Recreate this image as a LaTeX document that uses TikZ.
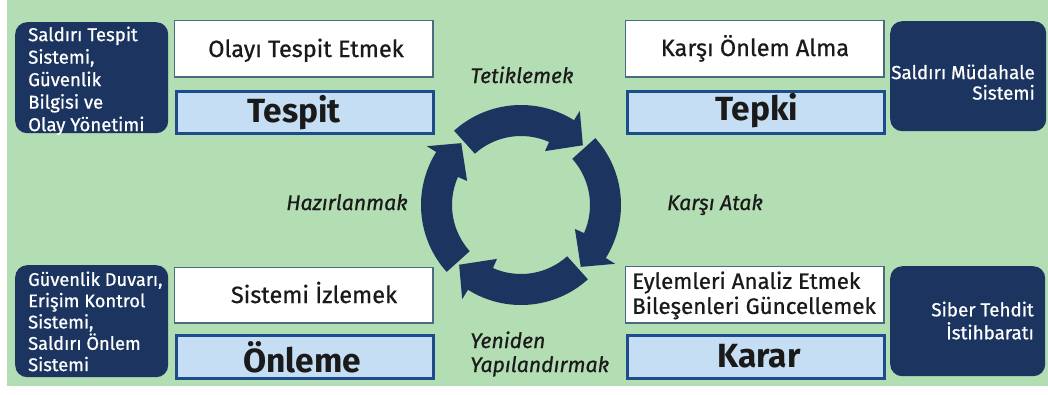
\documentclass[tikz,border=0pt]{standalone}
\usepackage{fontspec}
\setmainfont{Fira Sans}
\newfontfamily\medfont{Fira Sans}[FakeBold=0.7]
\definecolor{bggreen}{HTML}{B3DDB2}
\definecolor{navy}{HTML}{1B3560}
\definecolor{bfill}{HTML}{C5DEF3}
\definecolor{bbord}{HTML}{1E4B8C}
\definecolor{wbord}{HTML}{4A6A80}
\definecolor{txt}{HTML}{1A1A1A}
\begin{document}
\begin{tikzpicture}[x=1pt,y=-1pt,
  darkbox/.style={fill=navy, rounded corners=12pt, anchor=north west, inner sep=0},
  whitebox/.style={draw=wbord, line width=1.2pt, fill=white, anchor=north west, inner sep=0, minimum width=258.8pt},
  bluebox/.style={draw=bbord, line width=3pt, fill=bfill, anchor=north west, inner sep=0, minimum width=257pt},
  sidetxt/.style={text=white, inner sep=0},
  boxtxt/.style={text=txt, font=\medfont\fontsize{23.5}{25}\selectfont, inner sep=0},
  bigtxt/.style={text=txt, font=\bfseries\fontsize{33.5}{38}\selectfont, inner sep=0, anchor=base},
  lbl/.style={text=txt, font=\medfont\itshape\fontsize{21.2}{24}\selectfont, inner sep=0, anchor=base},
  cyc/.style={fill=navy}
]
\useasboundingbox (0,0) rectangle (1048,394);
\fill[white] (0,0) rectangle (1048,394);
\fill[bggreen] (7,0) rectangle (1048,386);

% dark side boxes
\node[darkbox, minimum width=153pt, minimum height=111pt] (dtl) at (15,22) {};
\node[darkbox, minimum width=156pt, minimum height=110pt] (dtr) at (890,21) {};
\node[darkbox, minimum width=153pt, minimum height=112pt] (dbl) at (15,265) {};
\node[darkbox, minimum width=155pt, minimum height=110pt] (dbr) at (890,266) {};

\node[sidetxt, anchor=north west, align=left, font=\medfont\fontsize{18.6}{22.5}\selectfont] (ttl) at (28,26.4)
  {Saldırı Tespit\\Sistemi,\\Güvenlik\\Bilgisi ve\\Olay Yönetimi};
\node[sidetxt, anchor=north east, align=right, font=\medfont\fontsize{18.8}{20.5}\selectfont] (ttr) at (1035,64.4)
  {Saldırı Müdahale\\Sistemi};
\node[sidetxt, anchor=north west, align=left, font=\medfont\fontsize{18.3}{21.3}\selectfont] (tbl) at (28,271.4)
  {Güvenlik Duvarı,\\Erişim Kontrol\\Sistemi,\\Saldırı Önlem\\Sistemi};
\node[sidetxt, anchor=north east, align=right, font=\medfont\fontsize{18.8}{23}\selectfont] (tbr) at (1034,301.4)
  {Siber Tehdit\\İstihbaratı};

% white boxes
\node[whitebox, minimum height=56.8pt] (wtl) at (173.6,19.6) {};
\node[whitebox, minimum height=56.8pt] (wtr) at (624.6,19.6) {};
\node[whitebox, minimum height=55.8pt] (wbl) at (173.6,266.6) {};
\node[whitebox, minimum height=56.8pt] (wbr) at (624.6,265.6) {};

\node[boxtxt, anchor=base] (xtl) at (306,57) {Olayı Tespit Etmek};
\node[boxtxt, anchor=base] (xtr) at (755,56) {Karşı Önlem Alma};
\node[boxtxt, anchor=base] (xbl) at (314,303) {Sistemi İzlemek};
\node[boxtxt, anchor=north west, align=left, font=\medfont\fontsize{22.3}{25}\selectfont] (xbr) at (632,271.3)
  {Eylemleri Analiz Etmek\\Bileşenleri Güncellemek};

% blue boxes
\node[bluebox, minimum height=42pt] (btl) at (174.5,89.5) {};
\node[bluebox, minimum height=42pt] (btr) at (625.5,89.5) {};
\node[bluebox, minimum height=43pt] (bbl) at (174.5,333.5) {};
\node[bluebox, minimum height=43pt] (bbr) at (625.5,333.5) {};

\node[bigtxt] (ntl) at (294,122) {Tespit};
\node[bigtxt] (ntr) at (757,120) {Tepki};
\node[bigtxt] (nbl) at (302,372) {Önleme};
\node[bigtxt] (nbr) at (759,367) {Karar};

% labels
\node[lbl] (l1) at (522,83) {Tetiklemek};
\node[lbl] (l2) at (347,210) {Hazırlanmak};
\node[lbl] (l3) at (715,210) {Karşı Atak};
\node[lbl, anchor=base west] (l4) at (470,348) {Yeniden};
\node[lbl, anchor=base west] (l5) at (470,372) {Yapılandırmak};

% cycle arrows
\begin{scope}[shift={(521,205)}, yscale=-1]
  \foreach \T in {44,-46,-136,134}{
    \pgfmathsetmacro{\A}{\T+88}
    \pgfmathsetmacro{\B}{\T+14}
    \pgfmathsetmacro{\C}{\T+22}
    \fill[cyc] (\A:100) arc[start angle=\A, end angle=\B, radius=100]
      -- (\B:111) -- (\T:86) -- (\C:59) -- (\C:69)
      arc[start angle=\C, end angle=\A, radius=69] -- cycle;
  }
\end{scope}
\end{tikzpicture}
\end{document}
